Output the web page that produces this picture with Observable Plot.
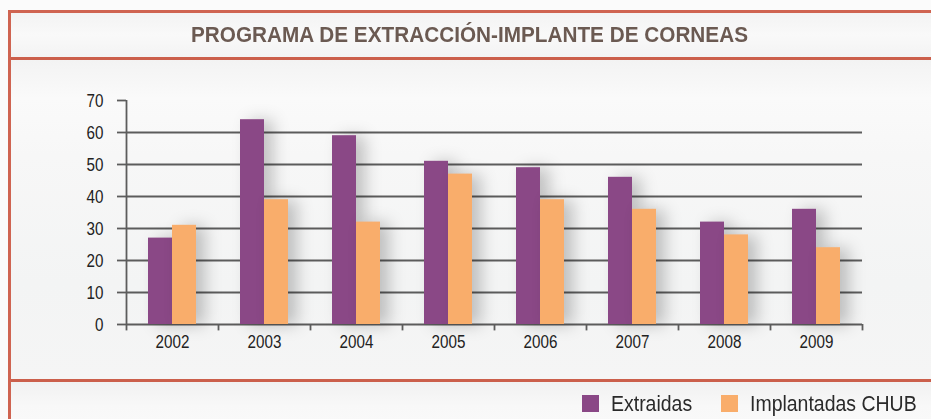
<!DOCTYPE html>
<html>
<head>
<meta charset="utf-8">
<script src="https://cdn.jsdelivr.net/npm/d3@7"></script>
<script src="https://cdn.jsdelivr.net/npm/@observablehq/plot@0.6"></script>
<style>
  html, body { margin: 0; padding: 0; }
  body { width: 931px; height: 419px; overflow: hidden; background: #fbfbfb; position: relative;
         font-family: "Liberation Sans", Arial, sans-serif; }
  #frame { position: absolute; left: 8px; top: 10px; width: 940px; height: 420px;
           border-left: 3px solid #cf6451; border-top: 3px solid #cf6451; box-sizing: border-box; }
  #titleband { position: absolute; left: 0; top: 0; width: 100%; height: 44px;
               background: linear-gradient(#f3f3f3, #f9f9f9 50%, #f3f3f3); }
  #sep1 { position: absolute; left: 0; top: 44px; width: 100%; height: 3px; background: #cb5f4b; }
  #chartband { position: absolute; left: 0; top: 47px; width: 100%; height: 319px;
               background: linear-gradient(#f3f3f3, #fafafa 12%, #f7f7f7 30%, #f3f4f4 70%, #f5f5f5); }
  #sep2 { position: absolute; left: 0; top: 366px; width: 100%; height: 3px; background: #cb5f4b; }
  #legendband { position: absolute; left: 0; top: 369px; width: 100%; height: 60px;
                background: linear-gradient(#f1f1f1, #f8f8f8 40%, #fafafa); }
  #title { position: absolute; left: 0; top: 24px; white-space: nowrap; line-height: 22px;
           font-family: "Liberation Sans", Arial, sans-serif;
           font-weight: bold; font-size: 22px; color: #6b5a52; transform-origin: 0 0; }
  #chart { position: absolute; left: 0; top: 70px; }
  .sw { position: absolute; top: 395px; width: 17px; height: 17px; }
  .lt { position: absolute; top: 395px; line-height: 17px; font-size: 22px; color: #2a2a2a;
        white-space: nowrap; transform-origin: 0 0; transform: scaleX(0.885); }
</style>
</head>
<body>
<div id="frame">
  <div id="titleband"></div>
  <div id="sep1"></div>
  <div id="chartband"></div>
  <div id="sep2"></div>
  <div id="legendband"></div>
</div>
<div id="title">PROGRAMA DE EXTRACCIÓN-IMPLANTE DE CORNEAS</div>
<div id="chart"></div>
<div id="legend"></div>
<script>
const years = ["2002", "2003", "2004", "2005", "2006", "2007", "2008", "2009"];
const extraidas = [27, 64, 59, 51, 49, 46, 32, 36];
const implantadas = [31, 39, 32, 47, 39, 36, 28, 24];
const seriesNames = ["Extraidas", "Implantadas CHUB"];
const seriesColors = ["#8a4886", "#f9ad6b"];
const yTicks = [0, 10, 20, 30, 40, 50, 60, 70];
const gridValues = [0, 10, 20, 30, 40, 50, 60];

const dataA = years.map((y, i) => ({year: y, value: extraidas[i]}));
const dataB = years.map((y, i) => ({year: y, value: implantadas[i]}));

const axisColor = "#5c5c5c";

const plot = Plot.plot({
  width: 931,
  height: 300,
  marginLeft: 126,
  marginRight: 69,
  marginTop: 30,
  marginBottom: 46,
  style: {background: "transparent", fontFamily: "'Liberation Sans', Arial, sans-serif", fontSize: "19px", color: "#222"},
  x: {type: "band", domain: years, padding: 0, round: false},
  y: {domain: [0, 70]},
  marks: [
    Plot.ruleY(gridValues, {stroke: axisColor, strokeWidth: 1.8}),
    Plot.barY(dataA, {x: "year", y: "value", fill: seriesColors[0], insetLeft: 22, insetRight: 46}),
    Plot.barY(dataB, {x: "year", y: "value", fill: seriesColors[1], insetLeft: 46, insetRight: 22}),
    Plot.ruleX(years, {x: d => d, y1: 0, y2: -2, dx: -46, stroke: axisColor, strokeWidth: 1.8}),
    Plot.ruleX(years.slice(-1), {x: d => d, y1: 0, y2: -2, dx: 46, stroke: axisColor, strokeWidth: 1.8}),
    Plot.ruleX([years[0]], {x: d => d, y1: 0, y2: 70, dx: -46, stroke: axisColor, strokeWidth: 1.8}),
    Plot.axisY({ticks: yTicks, tickSize: 9, tickPadding: 14, stroke: axisColor, strokeWidth: 1.8, label: null, color: "#222"}),
    Plot.axisX({tickSize: 0, tickPadding: 10, label: null})
  ]
});
document.getElementById("chart").appendChild(plot);

// narrow the tick labels (condensed look)
plot.querySelectorAll("g[aria-label$='tick label'] text").forEach(t => {
  const tr = t.getAttribute("transform");
  if (tr) {
    t.setAttribute("transform", tr + " scale(0.8,1)");
  } else {
    const x = +(t.getAttribute("x") || 0);
    t.setAttribute("transform", `translate(${x},0) scale(0.8,1) translate(${-x},0)`);
  }
});

// soft shadow behind bars
plot.querySelectorAll("g[aria-label='bar']").forEach(g => {
  g.style.filter = "drop-shadow(9px 1px 8px rgba(0,0,0,0.22))";
});

// title: condensed to span like the reference, centred in the frame
const title = document.getElementById("title");
const tw = title.getBoundingClientRect().width;
const targetW = 557;
const sx = targetW / tw;
title.style.left = (469 - targetW / 2) + "px";
title.style.transform = `scaleX(${sx})`;

// legend
const legend = document.getElementById("legend");
const swatchX = [582, 721];
seriesNames.forEach((name, i) => {
  const sw = document.createElement("div");
  sw.className = "sw";
  sw.style.left = swatchX[i] + "px";
  sw.style.background = seriesColors[i];
  legend.appendChild(sw);
  const t = document.createElement("div");
  t.className = "lt";
  t.style.left = (swatchX[i] + 29) + "px";
  t.textContent = name;
  legend.appendChild(t);
});
</script>
</body>
</html>
